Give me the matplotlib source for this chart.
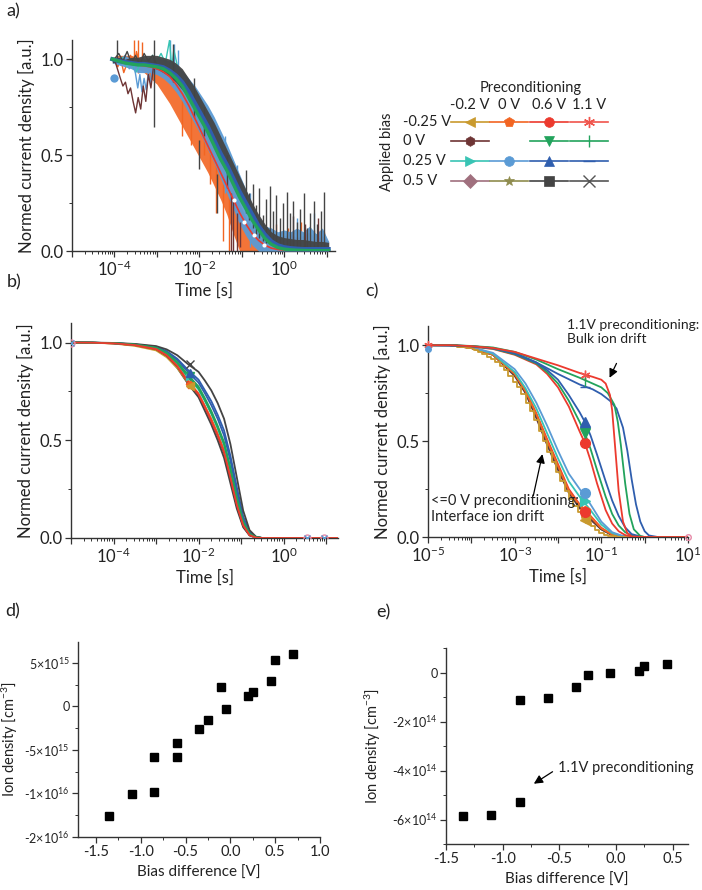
import numpy as np
import matplotlib
matplotlib.use('Agg')
import matplotlib.pyplot as plt
from matplotlib.ticker import FixedLocator, FuncFormatter, NullFormatter, LogLocator, MultipleLocator, FixedFormatter

plt.rcParams['font.family'] = ['Lato', 'DejaVu Sans']
plt.rcParams['mathtext.fontset'] = 'custom'
plt.rcParams['mathtext.rm'] = 'Lato'
plt.rcParams['mathtext.it'] = 'Lato:italic'
plt.rcParams['mathtext.bf'] = 'Lato:bold'
plt.rcParams['axes.unicode_minus'] = False

# ---------------- colours ----------------
C_GOLD = '#C99A2E'; C_ORNG = '#F26522'; C_RED = '#EC3A2E'; C_RED2 = '#F0544C'
C_BRWN = '#6E3535'; C_GRN = '#22A35C'; C_TURQ = '#38C4B4'; C_LBLU = '#5B9BD5'
C_BLUE = '#2F5EAE'; C_MAUV = '#A0707E'; C_OLIV = '#8F8C4E'; C_DGRY = '#444444'; C_GRY = '#555555'

# ---------------- panel a (raw, noisy) ----------------
a_logt = [-4.05, -3.9, -3.75, -3.6, -3.45, -3.3, -3.15, -3.0, -2.85, -2.7, -2.55, -2.4, -2.25, -2.1,
          -1.95, -1.8, -1.65, -1.5, -1.35, -1.2, -1.05, -0.9, -0.75, -0.6, -0.45, -0.3, -0.15, 0.0,
          0.15, 0.3, 0.45, 0.6, 0.75, 0.9, 1.05]
a_green = [1.0, 0.99, 0.98, 0.975, 0.97, 0.97, 0.965, 0.96, 0.95, 0.93, 0.9, 0.86, 0.8, 0.74, 0.68, 0.62,
           0.55, 0.48, 0.42, 0.35, 0.28, 0.22, 0.16, 0.11, 0.065, 0.035, 0.018, 0.01, 0.006, 0.004, 0.003,
           0.002, 0.002, 0.002, 0.002]
a_blue = [1.0, 0.99, 0.985, 0.98, 0.975, 0.975, 0.97, 0.965, 0.958, 0.94, 0.915, 0.88, 0.83, 0.77, 0.71,
          0.65, 0.58, 0.51, 0.45, 0.38, 0.31, 0.25, 0.19, 0.13, 0.085, 0.05, 0.03, 0.02, 0.015, 0.012, 0.01,
          0.01, 0.01, 0.01, 0.01]
a_red = [1.0, 0.99, 0.98, 0.975, 0.97, 0.965, 0.96, 0.95, 0.935, 0.91, 0.87, 0.82, 0.76, 0.69, 0.62, 0.55,
         0.48, 0.41, 0.34, 0.27, 0.2, 0.14, 0.09, 0.055, 0.03, 0.015, 0.008, 0.005, 0.003, 0.002, 0.002,
         0.002, 0.002, 0.002, 0.002]
a_orange_lo = [0.99, 0.98, 0.97, 0.96, 0.95, 0.93, 0.9, 0.87, 0.82, 0.77, 0.71, 0.65, 0.59, 0.53, 0.47, 0.41,
               0.34, 0.27, 0.19, 0.09, 0.0, 0.0, 0.0, 0.0, 0.0, 0.0, 0.0, 0.0, 0.0, 0.0, 0.0, 0.0, 0.0, 0.0, 0.0]
a_orange_hi = [1.01, 1.02, 1.02, 1.02, 1.01, 1.0, 0.99, 0.98, 0.96, 0.93, 0.9, 0.86, 0.81, 0.76, 0.7, 0.64,
               0.57, 0.49, 0.41, 0.33, 0.25, 0.17, 0.12, 0.09, 0.08, 0.1, 0.07, 0.08, 0.09, 0.07, 0.08, 0.1,
               0.06, 0.08, 0.05]
a_lblue_lo = [0.98, 0.97, 0.96, 0.95, 0.93, 0.93, 0.93, 0.92, 0.9, 0.87, 0.83, 0.78, 0.72, 0.66, 0.6, 0.53,
              0.46, 0.38, 0.3, 0.22, 0.14, 0.08, 0.03, 0.0, 0.0, 0.0, 0.0, 0.0, 0.0, 0.0, 0.0, 0.0, 0.0, 0.0, 0.0]
a_lblue_hi = [1.01, 1.01, 1.02, 1.0, 0.99, 1.0, 1.01, 1.01, 1.0, 0.99, 0.97, 0.94, 0.9, 0.86, 0.81, 0.76,
              0.7, 0.63, 0.56, 0.48, 0.4, 0.32, 0.24, 0.18, 0.13, 0.12, 0.1, 0.11, 0.1, 0.12, 0.1, 0.13,
              0.09, 0.12, 0.05]
a_gray_lo = [0.98, 0.99, 0.98, 0.99, 0.98, 0.98, 0.97, 0.95, 0.93, 0.91, 0.88, 0.84, 0.8, 0.75, 0.7, 0.64,
             0.57, 0.5, 0.43, 0.36, 0.29, 0.22, 0.16, 0.11, 0.07, 0.04, 0.03, 0.02, 0.02, 0.015, 0.015,
             0.01, 0.01, 0.01, 0.01]
a_gray_hi = [1.0, 1.01, 1.0, 1.01, 1.01, 1.02, 1.02, 1.02, 1.01, 1.0, 0.98, 0.95, 0.9, 0.85, 0.79, 0.73,
             0.67, 0.6, 0.53, 0.46, 0.39, 0.32, 0.25, 0.19, 0.14, 0.1, 0.08, 0.07, 0.065, 0.06, 0.06,
             0.055, 0.05, 0.05, 0.045]
# spikes of the dark grey trace
a_gspk_logt = [-3.93, -3.06, -2.62, -2.12, -2.0, -1.88, -1.57, -1.35, -0.9, -0.82, -0.74, -0.66, -0.58,
               -0.5, -0.42, -0.34, -0.26, -0.18, -0.1, -0.02, 0.06, 0.14, 0.22, 0.3, 0.38, 0.46, 0.54,
               0.62, 0.7, 0.78, 0.86, 0.94]
a_gspk_lo = [1.0, 0.645, 0.88, 0.7, 0.43, 0.6, 0.2, 0.33, 0.2, 0.16, 0.12, 0.09, 0.07, 0.05, 0.04, 0.04,
             0.03, 0.03, 0.03, 0.02, 0.02, 0.02, 0.02, 0.02, 0.02, 0.02, 0.02, 0.02, 0.02, 0.02, 0.02, 0.02]
a_gspk_hi = [1.1, 1.1, 1.08, 0.9, 0.58, 0.75, 0.4, 0.5, 0.42, 0.3, 0.35, 0.24, 0.33, 0.19, 0.27, 0.34,
             0.21, 0.29, 0.17, 0.25, 0.31, 0.2, 0.26, 0.15, 0.22, 0.3, 0.12, 0.2, 0.26, 0.14, 0.21, 0.31]
# spikes of the orange trace
a_ospk_logt = [-3.55, -3.45, -3.35, -2.4, -2.2, -1.9, -1.75, -1.6, -1.45, -1.3, -0.2, 0.1, 0.4, 0.7, 0.95]
a_ospk_lo = [0.95, 0.93, 0.95, 0.6, 0.55, 0.5, 0.35, 0.2, 0.05, 0.0, 0.0, 0.0, 0.0, 0.0, 0.0]
a_ospk_hi = [1.1, 1.1, 1.09, 0.9, 0.85, 0.62, 0.55, 0.45, 0.35, 0.28, 0.14, 0.12, 0.15, 0.11, 0.1]
# spikes of the light-blue trace
a_lspk_logt = [-2.7, -2.6, -2.5, -1.4, -1.1, -0.8, 0.3, 0.7]
a_lspk_lo = [0.88, 0.85, 0.83, 0.3, 0.15, 0.02, 0.0, 0.0]
a_lspk_hi = [1.1, 1.08, 1.05, 0.6, 0.45, 0.3, 0.17, 0.2]
# brown trace
a_brown_logt = [-4.0, -3.93, -3.86, -3.8, -3.74, -3.68, -3.62, -3.56, -3.5, -3.44, -3.38, -3.32, -3.26,
                -3.2, -3.14, -3.08, -3.0]
a_brown_val = [1.0, 0.95, 0.9, 0.86, 0.88, 0.82, 0.85, 0.78, 0.72, 0.8, 0.74, 0.86, 0.78, 0.92, 0.85, 0.96, 0.95]
a_bspk_logt = [-1.25, -1.2, -1.12, -1.05, 0.2, 0.5, 0.8]
a_bspk_lo = [0.0, 0.0, 0.0, 0.02, 0.02, 0.02, 0.02]
a_bspk_hi = [0.3, 0.26, 0.2, 0.15, 0.18, 0.14, 0.17]
# turquoise, light-blue, orange and grey early traces
a_turq_logt = [-4.0, -3.9, -3.8, -3.7, -3.6, -3.5, -3.4, -3.3, -3.2, -3.1, -3.0, -2.9, -2.8, -2.7, -2.65, -2.6, -2.5]
a_turq_val = [1.0, 0.98, 1.01, 0.96, 0.99, 0.93, 0.97, 1.0, 0.98, 1.02, 0.99, 1.03, 0.98, 1.1, 0.95, 1.05, 0.95]
a_lb_logt = [-3.95, -3.85, -3.75, -3.65, -3.55, -3.45, -3.4, -3.35, -3.3, -3.25, -3.2, -3.15, -3.1, -3.0]
a_lb_val = [1.0, 0.97, 1.02, 0.95, 0.99, 0.85, 0.92, 0.83, 0.9, 0.84, 0.93, 0.88, 0.97, 0.96]
a_or_logt = [-4.0, -3.92, -3.85, -3.78, -3.7, -3.62, -3.55, -3.48, -3.4, -3.32, -3.25, -3.18, -3.1, -3.0]
a_or_val = [1.0, 0.96, 1.0, 0.93, 0.98, 1.02, 0.95, 1.04, 0.97, 1.01, 0.94, 1.0, 0.96, 0.93]
a_gr_logt = [-4.0, -3.9, -3.8, -3.7, -3.6, -3.5, -3.4, -3.3, -3.2, -3.1, -3.0]
a_gr_val = [1.0, 1.03, 0.99, 1.04, 0.98, 1.02, 0.97, 1.03, 0.99, 1.02, 0.97]
a_sphere_logt = [-4.0]
a_sphere_val = [0.9]
a_dots_logt = [-1.18, -0.94, -0.71, -0.47]
a_dots_val = [0.266, 0.151, 0.083, 0.031]

# ---------------- panel b (fits, all similar) ----------------
b_logt = [-5, -4.5, -4, -3.5, -3, -2.75, -2.5, -2.25, -2, -1.85, -1.7, -1.55, -1.4, -1.25, -1.1, -0.95,
          -0.8, -0.65, -0.5, 0, 1.3]
b_curves = {
    'gray_l': [1, .999, .996, .986, .965, .93, .87, .79, .72, .65, .58, .50, .41, .28, .15, .055, .013, .002, 0, 0, 0],
    'gold':   [1, .999, .995, .983, .96, .925, .87, .795, .735, .672, .605, .53, .445, .315, .175, .068, .016, .003, 0, 0, 0],
    'brown':  [1, .999, .996, .987, .966, .933, .878, .80, .733, .668, .60, .522, .435, .305, .165, .062, .014, .002, 0, 0, 0],
    'red':    [1, .999, .996, .987, .967, .935, .88, .80, .735, .67, .60, .525, .44, .31, .17, .065, .015, .002, 0, 0, 0],
    'orange': [1, .999, .996, .987, .968, .937, .883, .805, .74, .675, .61, .535, .45, .32, .18, .07, .017, .003, 0, 0, 0],
    'turq':   [1, .999, .997, .989, .972, .944, .893, .822, .76, .70, .635, .56, .475, .345, .195, .078, .019, .003, 0, 0, 0],
    'green1': [1, .999, .997, .989, .972, .945, .895, .825, .765, .705, .64, .565, .48, .35, .20, .08, .02, .003, 0, 0, 0],
    'green2': [1, .999, .997, .99, .974, .948, .90, .835, .775, .715, .65, .575, .49, .36, .21, .085, .022, .004, 0, 0, 0],
    'blue1':  [1, .999, .997, .99, .976, .952, .91, .85, .795, .74, .68, .61, .525, .395, .235, .095, .025, .004, 0, 0, 0],
    'blue2':  [1, .999, .997, .991, .978, .956, .917, .86, .81, .755, .70, .63, .55, .42, .26, .11, .03, .005, 0, 0, 0],
    'gray_r': [1, 1, .998, .993, .982, .965, .935, .89, .85, .805, .755, .69, .61, .48, .31, .14, .04, .007, 0, 0, 0],
}
b_colors = {'gray_l': C_DGRY, 'gold': C_GOLD, 'brown': C_BRWN, 'red': C_RED, 'orange': C_ORNG,
            'turq': C_TURQ, 'green1': C_GRN, 'green2': C_GRN, 'blue1': C_BLUE, 'blue2': C_BLUE, 'gray_r': C_DGRY}
b_mark_logt = -2.2
b_marks = [('red', 0.79, '*'), ('orange', 0.785, 'p'), ('gold', 0.78, '<'), ('turq', 0.83, '>'),
           ('green1', 0.83, 'v'), ('blue1', 0.845, '^'), ('gray_r', 0.89, 'x')]
b_end_logt = [0.56, 0.95]

# ---------------- panel c (fits, three groups) ----------------
c_logt = [-5, -4.5, -4, -3.5, -3, -2.75, -2.5, -2.25, -2, -1.75, -1.5, -1.25, -1, -0.75, -0.5, -0.25, 0, 1]
c_group1 = {
    'brown':  [1, 1, 0.985, 0.95, 0.84, 0.75, 0.62, 0.48, 0.35, 0.23, 0.15, 0.09, 0.04, 0.01, 0.002, 0, 0, 0],
    'gray':   [1, 1, 0.985, 0.95, 0.845, 0.755, 0.63, 0.49, 0.36, 0.235, 0.155, 0.1, 0.04, 0.01, 0.002, 0, 0, 0],
    'orange': [1, 1, 0.985, 0.95, 0.85, 0.76, 0.64, 0.5, 0.37, 0.24, 0.165, 0.105, 0.045, 0.012, 0.002, 0, 0, 0],
    'red':    [1, 1, 0.986, 0.952, 0.853, 0.765, 0.645, 0.51, 0.38, 0.25, 0.17, 0.11, 0.048, 0.013, 0.002, 0, 0, 0],
    'turq':   [1, 1, 0.99, 0.955, 0.86, 0.775, 0.67, 0.54, 0.41, 0.29, 0.21, 0.14, 0.065, 0.02, 0.004, 0, 0, 0],
    'lblue':  [1, 1, 0.99, 0.96, 0.875, 0.8, 0.7, 0.58, 0.45, 0.33, 0.25, 0.17, 0.08, 0.025, 0.005, 0, 0, 0],
}
c_gold_logt = [-5.0, -4.5, -4.2, -4.0, -3.9, -3.8, -3.7, -3.6, -3.5, -3.4, -3.3, -3.2, -3.1, -3.0, -2.9, -2.8,
               -2.7, -2.6, -2.5, -2.4, -2.3, -2.2, -2.1, -2.0, -1.9, -1.8, -1.7, -1.6, -1.5, -1.4, -1.3,
               -1.2, -1.1, -1.0, -0.9, -0.8, -0.6, 1.0]
c_gold_val = [1.0, 1.0, 0.99, 0.985, 0.975, 0.965, 0.955, 0.94, 0.93, 0.91, 0.89, 0.87, 0.84, 0.81, 0.78,
              0.745, 0.7, 0.655, 0.61, 0.555, 0.5, 0.445, 0.39, 0.34, 0.29, 0.24, 0.2, 0.16, 0.13, 0.1,
              0.075, 0.055, 0.035, 0.02, 0.01, 0.004, 0.0, 0.0]
c_g2_logt = [-5, -4.5, -4, -3.5, -3, -2.5, -2.25, -2, -1.75, -1.5, -1.38, -1.25, -1.1, -1, -0.9, -0.75,
             -0.6, -0.45, -0.3, -0.1, 0, 1]
c_group2 = {
    'red':   [1, 1, 0.993, 0.98, 0.95, 0.9, 0.85, 0.78, 0.68, 0.55, 0.49, 0.4, 0.28, 0.21, 0.14, 0.07, 0.03, 0.01, 0.003, 0, 0, 0],
    'green': [1, 1, 0.994, 0.982, 0.953, 0.905, 0.86, 0.8, 0.71, 0.6, 0.54, 0.46, 0.35, 0.28, 0.21, 0.12, 0.06, 0.025, 0.008, 0.001, 0, 0],
    'blue':  [1, 1, 0.995, 0.984, 0.956, 0.91, 0.87, 0.82, 0.74, 0.65, 0.6, 0.53, 0.43, 0.36, 0.29, 0.19, 0.11, 0.05, 0.015, 0.003, 0, 0],
}
c_g3_red_logt = [-5, -4.5, -4, -3.5, -3, -2.5, -2, -1.5, -1.2, -1, -0.9, -0.8, -0.75, -0.7, -0.65, -0.6,
                 -0.5, -0.4, -0.3, 0, 1]
c_g3_red = [1, 1, 0.995, 0.985, 0.965, 0.93, 0.895, 0.855, 0.835, 0.82, 0.8, 0.74, 0.66, 0.52, 0.38, 0.24,
            0.08, 0.02, 0.003, 0, 0]
c_g3_grn_logt = [-5, -4.5, -4, -3.5, -3, -2.5, -2, -1.5, -1.2, -1, -0.85, -0.7, -0.62, -0.55, -0.45, -0.35,
                 -0.25, -0.1, 0, 1]
c_g3_grn = [1, 1, 0.996, 0.988, 0.965, 0.925, 0.875, 0.83, 0.8, 0.78, 0.75, 0.69, 0.6, 0.48, 0.28, 0.12,
            0.04, 0.005, 0, 0]
c_g3_blu_logt = [-5, -4, -3.5, -3, -2.5, -2, -1.5, -1.2, -1, -0.8, -0.65, -0.5, -0.4, -0.3, -0.2, -0.1, 0,
                 0.1, 0.3, 1]
c_g3_blu = [1, 0.995, 0.985, 0.96, 0.91, 0.85, 0.795, 0.77, 0.745, 0.71, 0.67, 0.57, 0.45, 0.3, 0.17, 0.08,
            0.03, 0.008, 0, 0]
c_mark_logt = -1.38
c_marks = [(C_GOLD, 0.09, '<'), (C_ORNG, 0.137, 'p'), (C_RED, 0.13, 'o'), (C_TURQ, 0.19, '>'),
           (C_LBLU, 0.23, 'o'), (C_RED, 0.49, 'o'), (C_GRN, 0.54, 'v'), (C_BLUE, 0.6, '^'),
           (C_RED2, 0.845, (6, 2, 0)), (C_GRN, 0.81, '|'), (C_BLUE, 0.78, '_')]

# ---------------- panels d, e ----------------
d_bias = [-1.35, -1.1, -0.85, -0.85, -0.6, -0.6, -0.35, -0.25, -0.1, -0.05, 0.2, 0.25, 0.45, 0.5, 0.7]
d_density = [-1.26e16, -1.008e16, -5.77e15, -9.8e15, -4.23e15, -5.8e15, -2.6e15, -1.54e15, 2.19e15,
             -0.27e15, 1.23e15, 1.65e15, 2.88e15, 5.3e15, 6.04e15]
e_bias = [-1.35, -1.1, -0.85, -0.85, -0.6, -0.35, -0.25, -0.05, 0.2, 0.25, 0.45]
e_density = [-5.85e14, -5.81e14, -5.29e14, -1.12e14, -1.05e14, -0.61e14, -0.1e14, 0.0, 0.07e14, 0.27e14, 0.34e14]
d_yticks = [-1.5e16, -1.0e16, -5e15, 0, 5e15]
d_yticklabels = ['-2×10$^{16}$', '-1×10$^{16}$', '-5×10$^{15}$', '0', '5×10$^{15}$']
e_yticks = [-6e14, -4e14, -2e14, 0]
e_yticklabels = ['-6×10$^{14}$', '-4×10$^{14}$', '-2×10$^{14}$', '0']

# ---------------- legend table ----------------
leg_cols = ['-0.2 V', '0 V', '0.6 V', '1.1 V']
leg_rows = ['-0.25 V', '0 V', '0.25 V', '0.5 V']
leg_styles = [
    [(C_GOLD, '<'), (C_ORNG, 'p'), (C_RED, 'o'), (C_RED2, (6, 2, 0))],
    [(C_BRWN, 'h'), None, (C_GRN, 'v'), (C_GRN, '|')],
    [(C_TURQ, '>'), (C_LBLU, 'o'), (C_BLUE, '^'), (C_BLUE, '_')],
    [(C_MAUV, 'D'), (C_OLIV, '*'), (C_DGRY, 's'), (C_GRY, 'x')],
]

W, H = 702, 890
fig = plt.figure(figsize=(W / 100, H / 100), dpi=100)

TICK_FS = 12
LAB_FS = 12
SP_COL = '#333333'
TXT = '#222222'


def px_axes(left, right, top, bottom):
    return fig.add_axes([left / W, 1 - bottom / H, (right - left) / W, (bottom - top) / H])


def basic_style(ax, fs=TICK_FS):
    for s in ['top', 'right']:
        ax.spines[s].set_visible(False)
    for s in ['left', 'bottom']:
        ax.spines[s].set_color(SP_COL)
        ax.spines[s].set_linewidth(1.0)
    ax.tick_params(which='major', direction='out', length=4, width=0.9, color=SP_COL, labelsize=fs,
                   pad=2, labelcolor=TXT)
    ax.tick_params(which='minor', direction='out', length=2.2, width=0.7, color=SP_COL)


def time_axis(ax, lo, hi, label_exps):
    ax.set_xscale('log')
    ax.set_xlim(10.0 ** lo, 10.0 ** hi)
    exps = list(range(int(np.ceil(lo)), int(np.floor(hi)) + 1))
    ax.xaxis.set_major_locator(FixedLocator([10.0 ** e for e in exps]))
    ax.xaxis.set_major_formatter(FuncFormatter(
        lambda v, p: ('10$^{%d}$' % round(np.log10(v))) if round(np.log10(v)) in label_exps else ''))
    ax.xaxis.set_minor_locator(LogLocator(base=10, subs=np.arange(2, 10) * 1.0, numticks=100))
    ax.xaxis.set_minor_formatter(NullFormatter())
    ax.set_ylim(0, 1.1)
    ax.yaxis.set_major_locator(FixedLocator([0, 0.5, 1.0]))
    ax.yaxis.set_minor_locator(FixedLocator([0.25, 0.75]))
    ax.yaxis.set_major_formatter(FuncFormatter(lambda v, p: '%.1f' % v))
    ax.set_xlabel('Time [s]', fontsize=LAB_FS, labelpad=3, color=TXT)
    ax.set_ylabel('Normed current density [a.u.]', fontsize=LAB_FS, labelpad=4, color=TXT)


T = lambda l: 10.0 ** np.asarray(l, dtype=float)
ARW = dict(arrowstyle='-|>', color='black', lw=0.9, mutation_scale=13, shrinkA=0, shrinkB=0)

# ---------- panel a ----------
axa = px_axes(72, 335, 40, 251)
basic_style(axa)
time_axis(axa, -5, 1.2, [-4, -2, 0])
ta = T(a_logt)
axa.plot(T(a_or_logt), a_or_val, color=C_ORNG, lw=1.0, zorder=2)
axa.fill_between(ta, a_orange_lo, a_orange_hi, color=C_ORNG, lw=0, alpha=0.9, zorder=2)
axa.vlines(T(a_ospk_logt), a_ospk_lo, a_ospk_hi, color=C_ORNG, lw=1.0, zorder=2)
axa.fill_between(ta, a_lblue_lo, a_lblue_hi, color=C_LBLU, lw=0, alpha=0.95, zorder=3)
axa.vlines(T(a_lspk_logt), a_lspk_lo, a_lspk_hi, color=C_LBLU, lw=1.0, zorder=3)
axa.plot(T(a_turq_logt), a_turq_val, color=C_TURQ, lw=1.0, zorder=3)
axa.plot(T(a_lb_logt), a_lb_val, color=C_LBLU, lw=1.0, zorder=3)
axa.plot(T(a_gr_logt), a_gr_val, color=C_DGRY, lw=1.0, zorder=3)
axa.plot(T(a_brown_logt), a_brown_val, color=C_BRWN, lw=1.0, zorder=3)
axa.vlines(T(a_bspk_logt), a_bspk_lo, a_bspk_hi, color=C_BRWN, lw=1.0, zorder=3)
axa.fill_between(ta, a_gray_lo, a_gray_hi, color=C_DGRY, lw=0, alpha=0.95, zorder=4)
axa.vlines(T(a_gspk_logt), a_gspk_lo, a_gspk_hi, color=C_DGRY, lw=1.0, zorder=4)
axa.plot(ta, a_blue, color=C_BLUE, lw=3.0, zorder=5)
axa.plot(ta, a_red, color=C_RED, lw=1.2, zorder=6)
axa.plot(ta, a_green, color=C_GRN, lw=2.4, zorder=7)
axa.plot(T(a_dots_logt), a_dots_val, 'o', ms=3, color='white', mec='none', zorder=8)
axa.plot(T(a_sphere_logt), a_sphere_val, 'o', ms=6, color=C_LBLU, mec='none', zorder=8)

# ---------- panel b ----------
axb = px_axes(71, 338, 323, 538)
basic_style(axb)
time_axis(axb, -5, 1.28, [-4, -2, 0])
tb = T(b_logt)
for key in ['gray_l', 'gold', 'brown', 'orange', 'turq', 'blue1', 'blue2', 'gray_r', 'green1', 'green2', 'red']:
    axb.plot(tb, b_curves[key], color=b_colors[key], lw=1.3, zorder=3)
for key, val, mk in b_marks:
    axb.plot([10.0 ** b_mark_logt], [val], marker=mk, ms=6, color=b_colors[key], mew=1.0, ls='none', zorder=4)
for lt in b_end_logt:
    axb.plot([10.0 ** lt], [0.0], 'o', ms=5, mfc='none', mec='#E78AA8', mew=1.0, zorder=4)
    axb.plot([10.0 ** lt], [0.0], 'x', ms=4, color=C_LBLU, mew=1.0, zorder=4)
axb.plot([1e-5], [1.0], 'o', ms=5, mfc='none', mec='#E78AA8', mew=1.0, zorder=4)
axb.plot([1e-5], [1.0], 'x', ms=4, color=C_LBLU, mew=1.0, zorder=4)

# ---------- panel c ----------
axc = px_axes(428, 688, 326, 537)
basic_style(axc)
time_axis(axc, -5, 1, [-5, -3, -1, 1])
tc = T(c_logt)
g1_cols = {'brown': C_BRWN, 'gray': C_DGRY, 'orange': C_ORNG, 'red': C_RED, 'turq': C_TURQ, 'lblue': C_LBLU}
for key in ['brown', 'gray', 'red', 'orange', 'turq', 'lblue']:
    axc.plot(tc, c_group1[key], color=g1_cols[key], lw=1.3, zorder=3)
axc.plot(T(c_gold_logt), c_gold_val, color=C_GOLD, lw=1.3, drawstyle='steps-mid', zorder=3)
g2_cols = {'red': C_RED, 'green': C_GRN, 'blue': C_BLUE}
for key in ['red', 'green', 'blue']:
    axc.plot(T(c_g2_logt), c_group2[key], color=g2_cols[key], lw=1.3, zorder=3)
axc.plot(T(c_g3_blu_logt), c_g3_blu, color=C_BLUE, lw=1.3, zorder=3)
axc.plot(T(c_g3_grn_logt), c_g3_grn, color=C_GRN, lw=1.3, zorder=3)
axc.plot(T(c_g3_red_logt), c_g3_red, color=C_RED, lw=1.3, zorder=3)
for col, val, mk in c_marks:
    axc.plot([10.0 ** c_mark_logt], [val], marker=mk, ms=7, color=col, mew=1.0, ls='none', zorder=4)
axc.plot([1e-5], [1.0], marker=(6, 2, 0), ms=6, color=C_RED2, zorder=4, clip_on=False)
axc.plot([1e-5], [0.98], 'o', ms=4, color=C_LBLU, zorder=4, clip_on=False)
axc.plot([10.0], [0.0], 'o', ms=4, mfc='none', mec='#E78AA8', zorder=4, clip_on=False)
ANN_FS = 10.5
axc.annotate('', xy=(10 ** -0.81, 0.83), xytext=(10 ** -0.65, 0.905), arrowprops=ARW)
axc.text(10 ** -1.8, 1.135, '1.1V preconditioning:\nBulk ion drift', fontsize=10, ha='left', va='top',
         linespacing=1.2, color=TXT, clip_on=False)
axc.annotate('', xy=(10 ** -2.36, 0.432), xytext=(10 ** -2.57, 0.215), arrowprops=ARW)
axc.text(10 ** -4.93, 0.225, '<=0 V preconditioning:\nInterface ion drift', fontsize=ANN_FS, ha='left',
         va='top', linespacing=1.2, color=TXT, zorder=5)

# ---------- panel d ----------
DFS = 9
DLFS = 10.5
axd = px_axes(78, 320, 642, 837)
basic_style(axd, DFS)
axd.tick_params(axis='x', labelsize=10.5)
axd.plot(d_bias, d_density, 's', ms=5.5, color='black', ls='none')
axd.set_xlim(-1.7, 1.0)
axd.set_ylim(-1.5e16, 7.4e15)
axd.xaxis.set_major_locator(MultipleLocator(0.5))
axd.xaxis.set_minor_locator(MultipleLocator(0.25))
axd.xaxis.set_major_formatter(FuncFormatter(lambda v, p: '%.1f' % v))
axd.yaxis.set_major_locator(FixedLocator(d_yticks))
axd.yaxis.set_major_formatter(FixedFormatter(d_yticklabels))
axd.yaxis.set_minor_locator(FixedLocator([-1.25e16, -7.5e15, -2.5e15, 2.5e15]))
axd.set_xlabel('Bias difference [V]', fontsize=11, labelpad=5, color=TXT)
axd.set_ylabel('Ion density [cm$^{-3}$]', fontsize=DLFS, color=TXT)
axd.yaxis.set_label_coords(-0.24, 0.5)

# ---------- panel e ----------
axe = px_axes(446, 688, 648, 844)
basic_style(axe, DFS)
axe.tick_params(axis='x', labelsize=10.5)
axe.plot(e_bias, e_density, 's', ms=5.5, color='black', ls='none')
axe.set_xlim(-1.5, 0.635)
axe.set_ylim(-7e14, 1e14)
axe.xaxis.set_major_locator(MultipleLocator(0.5))
axe.xaxis.set_minor_locator(MultipleLocator(0.25))
axe.xaxis.set_major_formatter(FuncFormatter(lambda v, p: '%.1f' % v))
axe.yaxis.set_major_locator(FixedLocator(e_yticks))
axe.yaxis.set_major_formatter(FixedFormatter(e_yticklabels))
axe.yaxis.set_minor_locator(FixedLocator([-7e14, -5e14, -3e14, -1e14, 1e14]))
axe.set_xlabel('Bias difference [V]', fontsize=11, labelpad=5, color=TXT)
axe.set_ylabel('Ion density [cm$^{-3}$]', fontsize=DLFS, color=TXT)
axe.yaxis.set_label_coords(-0.26, 0.5)
axe.annotate('', xy=(-0.725, -4.54e14), xytext=(-0.56, -4.05e14), arrowprops=ARW)
axe.text(-0.51, -3.89e14, '1.1V preconditioning', fontsize=ANN_FS, ha='left', va='center', color=TXT,
         clip_on=False)

# ---------- overlay: panel labels + legend table ----------
ov = fig.add_axes([0, 0, 1, 1], zorder=10)
ov.set_xlim(0, W)
ov.set_ylim(H, 0)
ov.axis('off')
ov.patch.set_alpha(0)
for lab, (x, y) in zip(['a)', 'b)', 'c)', 'd)', 'e)'],
                       [(13, 11), (14, 282), (372, 291), (13, 611), (383, 612)]):
    ov.text(x, y, lab, fontsize=13, ha='center', va='center', color=TXT)

LFS = 10.5
ov.text(531, 88, 'Preconditioning', fontsize=LFS, ha='center', va='center', color=TXT)
col_x = [470, 509, 549, 589]
row_y = [122, 141, 161, 181]
for cx, lab in zip(col_x, leg_cols):
    ov.text(cx, 105, lab, fontsize=LFS, ha='center', va='center', color=TXT)
for ry, lab in zip(row_y, leg_rows):
    ov.text(403, ry, lab, fontsize=LFS, ha='left', va='center', color=TXT)
ov.text(387, 152, 'Applied bias', fontsize=LFS, ha='center', va='center', rotation=90, color=TXT)
for r, ry in enumerate(row_y):
    for c, cx in enumerate(col_x):
        st = leg_styles[r][c]
        if st is None:
            continue
        col, mk = st
        ov.plot([cx - 19, cx + 19], [ry, ry], color=col, lw=1.2)
        thin = mk in ('x', '|', '_') or isinstance(mk, tuple)
        ov.plot([cx], [ry], marker=mk, ms=7 if not thin else 8, color=col, mew=1.0 if thin else 0.5)

fig.savefig('out.png', dpi=100)
